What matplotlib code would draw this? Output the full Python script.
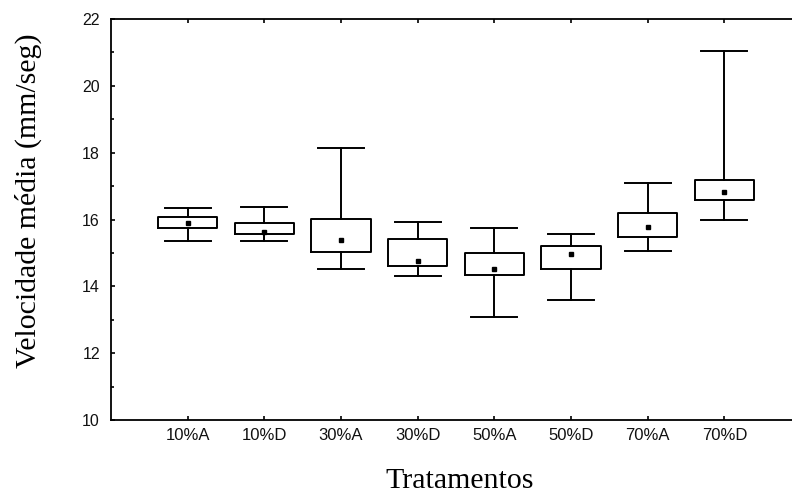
import matplotlib
matplotlib.use("Agg")
import matplotlib.pyplot as plt
from matplotlib.ticker import MultipleLocator

categories = ["10%A", "10%D", "30%A", "30%D", "50%A", "50%D", "70%A", "70%D"]
whisker_low = [15.35, 15.35, 14.53, 14.30, 13.09, 13.59, 15.07, 15.98]
box_low = [15.74, 15.56, 15.02, 14.62, 14.35, 14.53, 15.47, 16.59]
center = [15.89, 15.62, 15.39, 14.76, 14.53, 14.98, 15.79, 16.82]
box_high = [16.07, 15.89, 16.02, 15.43, 14.99, 15.21, 16.19, 17.18]
whisker_high = [16.34, 16.37, 18.14, 15.93, 15.74, 15.57, 17.09, 21.04]

fig = plt.figure(figsize=(7.92, 4.95), dpi=100)
W, H = 792, 495
left, right, top, bottom = 111, 801, 19, 420
ax = fig.add_axes([left / W, (H - bottom) / H, (right - left) / W, (bottom - top) / H])

stats = []
for i, c in enumerate(categories):
    stats.append(dict(label=c, whislo=whisker_low[i], q1=box_low[i], med=center[i],
                      q3=box_high[i], whishi=whisker_high[i], mean=center[i], fliers=[]))

positions = list(range(1, len(categories) + 1))
lw = 1.4
ax.bxp(stats, positions=positions, widths=0.77, showmeans=True, showfliers=False,
       boxprops=dict(color="black", linewidth=lw),
       whiskerprops=dict(color="black", linewidth=lw),
       capprops=dict(color="black", linewidth=lw),
       medianprops=dict(visible=False),
       meanprops=dict(marker="s", markerfacecolor="black", markeredgecolor="black",
                      markersize=3.2),
       capwidths=0.6)

ax.set_xlim(0, 9)
ax.set_ylim(10, 22)
ax.set_xticks(positions)
ax.set_xticklabels(categories, fontsize=12, family=["Liberation Sans", "DejaVu Sans"])
ax.yaxis.set_major_locator(MultipleLocator(2))
ax.yaxis.set_minor_locator(MultipleLocator(1))
for lab in ax.get_yticklabels():
    lab.set_fontsize(11.5)
    lab.set_family(["Liberation Sans", "DejaVu Sans"])
ax.tick_params(axis="both", which="both", direction="in", top=True, right=False,
               color="black", labelcolor="#111111")
ax.tick_params(axis="y", which="major", length=3, width=1.2, pad=8)
ax.tick_params(axis="y", which="minor", length=2, width=1.2)
ax.tick_params(axis="x", which="major", length=3, width=1.2, pad=6)
for s in ["left", "bottom", "top"]:
    ax.spines[s].set_linewidth(1.3)
    ax.spines[s].set_color("black")
ax.spines["right"].set_visible(False)

ax.set_xlabel("Tratamentos", fontsize=21.5, family=["Liberation Serif", "DejaVu Serif"])
ax.set_ylabel("Velocidade média (mm/seg)", fontsize=21.5,
              family=["Liberation Serif", "DejaVu Serif"])
ax.xaxis.set_label_coords((460 - left) / (right - left), -(481 - bottom) / (bottom - top))
ax.xaxis.label.set_va("center")
ax.yaxis.set_label_coords(-(111 - 28) / (right - left), (bottom - 201) / (bottom - top))
ax.yaxis.label.set_va("center")

fig.savefig("out.png", dpi=100, facecolor="white")
